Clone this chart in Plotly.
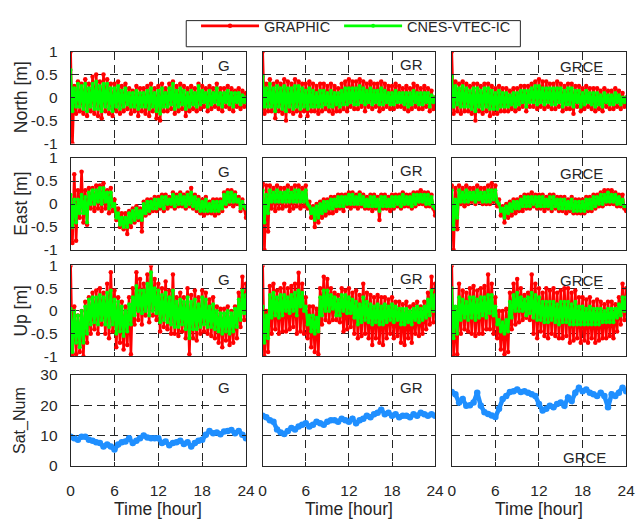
import plotly.graph_objects as go

# ---------------- data ----------------
hours = [i * 0.25 for i in range(97)]
hours_half = [i * 0.5 for i in range(49)]

north_G_graphic = [1.0,-1.0,0.25,-0.35, 0.35,-0.3,0.3,-0.35, 0.4,-0.4,0.3,-0.3, 0.45,-0.35,0.5,-0.4,
    0.35,-0.45,0.5,-0.3, 0.4,-0.35,0.3,-0.4, 0.3,-0.3,0.35,-0.35, 0.25,-0.3,0.3,-0.25,
    0.2,-0.35,0.15,-0.3, 0.25,-0.4,0.2,-0.3, 0.2,-0.35,0.25,-0.4, 0.3,-0.3,0.2,-0.45,
    0.25,-0.5,0.3,-0.3, 0.2,-0.3,0.3,-0.25, 0.35,-0.35,0.25,-0.3, 0.3,-0.25,0.25,-0.4,
    0.2,-0.3,0.25,-0.25, 0.2,-0.3,0.3,-0.25, 0.25,-0.2,0.2,-0.3, 0.25,-0.25,0.2,-0.2,
    0.3,-0.25,0.2,-0.3, 0.2,-0.2,0.25,-0.25, 0.2,-0.3,0.15,-0.2, 0.2,-0.25,0.15,-0.2, 0.1]
north_G_cnes = [0.6,-0.3,0.2,-0.2, 0.3,-0.2,0.25,-0.25, 0.3,-0.3,0.2,-0.2, 0.3,-0.25,0.35,-0.25,
    0.25,-0.3,0.3,-0.2, 0.3,-0.25,0.2,-0.3, 0.2,-0.2,0.25,-0.25, 0.15,-0.2,0.2,-0.15,
    0.1,-0.2,0.1,-0.2, 0.15,-0.25,0.1,-0.2, 0.1,-0.2,0.15,-0.25, 0.2,-0.2,0.1,-0.3,
    0.15,-0.35,0.2,-0.2, 0.1,-0.2,0.2,-0.15, 0.3,-0.25,0.15,-0.2, 0.2,-0.15,0.15,-0.25,
    0.1,-0.2,0.15,-0.15, 0.1,-0.2,0.25,-0.15, 0.15,-0.1,0.1,-0.2, 0.15,-0.15,0.1,-0.1,
    0.2,-0.15,0.1,-0.2, 0.1,-0.1,0.15,-0.15, 0.1,-0.2,0.1,-0.1, 0.1,-0.15,0.05,-0.1, 0.0]

north_GR_graphic = [1.0,-0.35,0.3,-0.3, 0.4,-0.3,0.3,-0.45, 0.35,-0.3,0.3,-0.35, 0.4,-0.5,0.35,-0.3,
    0.3,-0.35,0.4,-0.3, 0.35,-0.4,0.3,-0.3, 0.3,-0.4,0.35,-0.3, 0.3,-0.3,0.25,-0.35,
    0.3,-0.3,0.3,-0.25, 0.25,-0.3,0.3,-0.35, 0.25,-0.3,0.2,-0.3, 0.3,-0.25,0.35,-0.3,
    0.4,-0.2,0.35,-0.25, 0.35,-0.25,0.4,-0.2, 0.35,-0.3,0.3,-0.2, 0.35,-0.25,0.3,-0.2,
    0.3,-0.3,0.35,-0.25, 0.3,-0.2,0.25,-0.25, 0.25,-0.25,0.3,-0.2, 0.25,-0.2,0.2,-0.25,
    0.25,-0.3,0.2,-0.25, 0.3,-0.2,0.25,-0.25, 0.2,-0.25,0.25,-0.2, 0.2,-0.3,0.15,-0.25, 0.0]
north_GR_cnes = [0.45,-0.2,0.2,-0.2, 0.3,-0.2,0.2,-0.3, 0.25,-0.2,0.2,-0.25, 0.25,-0.3,0.2,-0.2,
    0.2,-0.25,0.25,-0.2, 0.25,-0.25,0.2,-0.2, 0.15,-0.25,0.2,-0.2, 0.15,-0.2,0.1,-0.2,
    0.15,-0.2,0.15,-0.15, 0.1,-0.2,0.15,-0.2, 0.1,-0.15,0.1,-0.2, 0.15,-0.15,0.2,-0.15,
    0.2,-0.1,0.2,-0.15, 0.2,-0.15,0.25,-0.1, 0.2,-0.15,0.15,-0.1, 0.2,-0.15,0.15,-0.1,
    0.15,-0.15,0.2,-0.15, 0.15,-0.1,0.1,-0.15, 0.1,-0.15,0.15,-0.1, 0.1,-0.1,0.1,-0.15,
    0.1,-0.2,0.1,-0.15, 0.15,-0.1,0.1,-0.15, 0.1,-0.15,0.1,-0.1, 0.1,-0.2,0.05,-0.1, 0.0]

north_GRCE_graphic = [1.0,-0.35,0.35,-0.3, 0.3,-0.35,0.35,-0.3, 0.3,-0.3,0.25,-0.35, 0.3,-0.5,0.3,-0.3,
    0.25,-0.35,0.3,-0.3, 0.3,-0.4,0.25,-0.35, 0.2,-0.35,0.25,-0.3, 0.2,-0.3,0.2,-0.3,
    0.15,-0.25,0.2,-0.3, 0.2,-0.25,0.25,-0.2, 0.25,-0.3,0.25,-0.2, 0.3,-0.2,0.35,-0.25,
    0.4,-0.2,0.35,-0.25, 0.35,-0.2,0.3,-0.25, 0.3,-0.25,0.35,-0.2, 0.3,-0.3,0.25,-0.25,
    0.3,-0.25,0.3,-0.35, 0.25,-0.2,0.25,-0.3, 0.2,-0.25,0.25,-0.2, 0.2,-0.25,0.2,-0.3,
    0.2,-0.25,0.15,-0.3, 0.2,-0.2,0.15,-0.25, 0.15,-0.25,0.2,-0.2, 0.15,-0.25,0.1,-0.2, 0.0]
north_GRCE_cnes = [0.45,-0.2,0.25,-0.15, 0.2,-0.2,0.25,-0.2, 0.2,-0.2,0.15,-0.25, 0.2,-0.3,0.2,-0.2,
    0.15,-0.25,0.2,-0.2, 0.2,-0.25,0.15,-0.25, 0.1,-0.25,0.15,-0.2, 0.1,-0.2,0.1,-0.2,
    0.05,-0.15,0.1,-0.2, 0.1,-0.15,0.15,-0.1, 0.15,-0.2,0.15,-0.1, 0.2,-0.1,0.25,-0.15,
    0.25,-0.1,0.2,-0.15, 0.2,-0.1,0.2,-0.15, 0.2,-0.15,0.2,-0.1, 0.2,-0.2,0.15,-0.15,
    0.2,-0.15,0.2,-0.2, 0.15,-0.1,0.15,-0.2, 0.1,-0.15,0.15,-0.1, 0.1,-0.15,0.1,-0.2,
    0.1,-0.15,0.05,-0.2, 0.1,-0.1,0.05,-0.15, 0.05,-0.15,0.1,-0.1, 0.05,-0.15,0.0,-0.1, 0.0]

east_G_graphic = [0.1,-0.85,0.65,-0.8, 0.3,-0.3,0.7,-0.4, 0.3,-0.45,0.35,-0.1, 0.35,-0.15,0.4,-0.1,
    0.4,-0.15,0.45,-0.1, 0.3,-0.2,0.35,-0.15, 0.1,-0.35,-0.1,-0.5, -0.2,-0.55,-0.2,-0.65,
    -0.15,-0.5,-0.1,-0.4, -0.05,-0.35,-0.1,-0.6, 0.05,-0.25,0.1,-0.2, 0.1,-0.15,0.15,-0.15,
    0.15,-0.1,0.2,-0.15, 0.2,-0.1,0.15,-0.05, 0.25,-0.1,0.2,-0.05, 0.25,-0.05,0.2,-0.1,
    0.25,-0.05,0.35,-0.1, 0.2,-0.15,0.15,-0.2, 0.1,-0.25,0.15,-0.2, 0.05,-0.2,0.1,-0.25,
    0.1,-0.2,0.1,-0.15, 0.25,-0.05,0.3,0.0, 0.3,-0.05,0.25,0.0, 0.15,-0.15,0.1,-0.1, -0.3]
east_G_cnes = [0.2,-0.5,0.1,-0.4, 0.1,-0.2,0.2,-0.2, 0.15,-0.4,0.25,0.0, 0.3,0.0,0.3,0.05,
    0.35,0.0,0.35,0.05, 0.25,-0.1,0.25,-0.05, 0.0,-0.3,-0.2,-0.45, -0.3,-0.5,-0.3,-0.5,
    -0.2,-0.4,-0.15,-0.35, -0.1,-0.3,-0.15,-0.35, 0.0,-0.2,0.05,-0.15, 0.05,-0.1,0.1,-0.1,
    0.1,-0.05,0.15,-0.1, 0.15,0.0,0.1,0.0, 0.2,-0.05,0.15,0.0, 0.2,0.0,0.15,-0.05,
    0.2,0.0,0.25,-0.05, 0.15,-0.1,0.1,-0.15, 0.05,-0.15,0.1,-0.15, 0.0,-0.15,0.05,-0.15,
    0.05,-0.15,0.05,-0.1, 0.2,0.0,0.25,0.05, 0.25,0.05,0.2,0.05, 0.1,-0.1,0.05,-0.05, -0.1]

east_GR_graphic = [0.45,-1.0,0.4,-0.6, 0.4,-0.1,0.35,-0.15, 0.4,-0.1,0.35,-0.1, 0.35,-0.05,0.4,-0.15,
    0.35,-0.1,0.4,-0.05, 0.4,-0.1,0.35,-0.05, 0.4,-0.1,0.05,-0.3, -0.05,-0.5,0.0,-0.4,
    0.05,-0.3,0.1,-0.25, 0.1,-0.2,0.15,-0.2, 0.15,-0.15,0.2,-0.1, 0.2,-0.15,0.2,-0.05,
    0.25,-0.1,0.25,-0.05, 0.2,-0.1,0.25,-0.05, 0.2,-0.1,0.15,-0.1, 0.2,-0.15,0.2,-0.1,
    0.15,-0.35,0.2,-0.1, 0.2,-0.1,0.15,-0.15, 0.2,-0.1,0.2,-0.05, 0.2,-0.1,0.25,-0.05,
    0.2,-0.05,0.2,-0.1, 0.25,-0.05,0.25,0.0, 0.3,0.0,0.25,-0.05, 0.25,-0.05,0.2,-0.1, -0.25]
east_GR_cnes = [0.3,-0.4,0.2,-0.2, 0.3,0.05,0.25,0.05, 0.3,0.05,0.25,0.05, 0.25,0.05,0.3,0.05,
    0.25,0.05,0.3,0.05, 0.3,0.05,0.25,0.05, 0.3,0.0,-0.05,-0.2, -0.1,-0.35,-0.05,-0.3,
    0.0,-0.2,0.05,-0.15, 0.05,-0.1,0.1,-0.1, 0.1,-0.05,0.15,-0.05, 0.15,-0.05,0.15,0.0,
    0.2,0.0,0.2,0.0, 0.15,0.0,0.2,0.0, 0.15,-0.05,0.1,-0.05, 0.15,-0.05,0.15,-0.05,
    0.1,-0.15,0.15,-0.05, 0.15,-0.05,0.1,-0.05, 0.15,-0.05,0.15,0.0, 0.15,-0.05,0.2,0.0,
    0.15,0.0,0.15,-0.05, 0.2,0.0,0.2,0.05, 0.2,0.05,0.2,0.0, 0.2,0.0,0.15,-0.05, -0.1]

east_GRCE_graphic = [0.4,-1.0,0.35,-0.55, 0.4,0.0,0.35,-0.05, 0.4,0.0,0.35,0.05, 0.35,0.0,0.4,0.05,
    0.35,0.0,0.35,0.0, 0.4,0.0,0.45,0.05, 0.4,-0.05,0.1,-0.25, -0.05,-0.4,0.0,-0.3,
    0.05,-0.25,0.1,-0.2, 0.1,-0.15,0.15,-0.15, 0.2,-0.1,0.2,-0.1, 0.25,-0.05,0.2,-0.1,
    0.2,-0.1,0.2,-0.15, 0.15,-0.1,0.2,-0.15, 0.2,-0.1,0.15,-0.15, 0.15,-0.15,0.15,-0.2,
    0.1,-0.15,0.15,-0.2, 0.1,-0.2,0.1,-0.2, 0.1,-0.2,0.15,-0.15, 0.15,-0.15,0.2,-0.1,
    0.2,-0.05,0.25,-0.05, 0.3,0.0,0.3,0.0, 0.3,0.0,0.25,-0.05, 0.2,-0.05,0.2,-0.1, -0.15]
east_GRCE_cnes = [0.3,-0.55,0.1,-0.3, 0.3,0.05,0.25,0.05, 0.3,0.05,0.25,0.1, 0.25,0.05,0.3,0.1,
    0.25,0.05,0.25,0.05, 0.3,0.05,0.3,0.1, 0.3,0.05,0.0,-0.15, -0.1,-0.3,-0.05,-0.2,
    0.0,-0.15,0.05,-0.1, 0.05,-0.1,0.1,-0.05, 0.15,-0.05,0.15,-0.05, 0.15,0.0,0.15,-0.05,
    0.15,-0.05,0.15,-0.05, 0.1,-0.05,0.15,-0.1, 0.15,-0.05,0.1,-0.1, 0.1,-0.1,0.1,-0.1,
    0.05,-0.1,0.1,-0.15, 0.05,-0.15,0.05,-0.15, 0.05,-0.15,0.1,-0.1, 0.1,-0.1,0.15,-0.05,
    0.15,0.0,0.2,0.0, 0.2,0.05,0.25,0.05, 0.2,0.05,0.2,0.0, 0.15,0.0,0.1,-0.05, -0.05]

up_G_graphic = [1.0,-1.0,0.1,-0.95, -0.1,-0.9,0.0,-1.0, 0.2,-0.7,0.3,-0.5, 0.4,-0.4,0.45,-0.5,
    0.5,-0.3,0.4,-0.5, 0.6,-0.6,0.85,-0.45, 0.45,-0.8,0.3,-0.7, 0.2,-0.85,0.1,-0.75,
    0.3,-0.95,0.5,-0.3, 0.85,-0.2,0.7,-0.3, 0.6,-0.1,0.8,-0.25, 1.0,-0.1,0.7,-0.2,
    0.6,-0.45,0.5,-0.35, 0.65,-0.4,0.45,-0.5, 0.8,-0.5,0.3,-0.55, 0.4,-0.45,0.3,-0.6,
    0.5,-0.95,0.35,-0.6, 0.45,-0.65,0.3,-0.5, 0.45,-0.45,0.4,-0.5, 0.25,-0.55,0.3,-0.6,
    0.1,-0.7,0.05,-0.8, 0.05,-0.65,0.1,-0.75, 0.0,-0.7,0.1,-0.6, 0.4,-0.35,0.75,-0.2, 0.6]
up_G_cnes = [0.05,-0.9,0.0,-0.7, -0.1,-0.8,0.0,-0.7, 0.1,-0.5,0.25,-0.3, 0.3,-0.25,0.3,-0.3,
    0.35,-0.2,0.3,-0.3, 0.4,-0.35,0.45,-0.3, 0.25,-0.5,0.2,-0.45, 0.1,-0.55,0.0,-0.45,
    0.15,-0.3,0.3,-0.1, 0.55,0.0,0.45,-0.05, 0.45,0.0,0.6,-0.1, 0.85,0.0,0.5,-0.05,
    0.45,-0.25,0.35,-0.2, 0.4,-0.25,0.3,-0.3, 0.45,-0.35,0.2,-0.35, 0.25,-0.3,0.2,-0.4,
    0.3,-0.6,0.2,-0.4, 0.25,-0.4,0.15,-0.35, 0.3,-0.3,0.25,-0.35, 0.1,-0.35,0.15,-0.4,
    0.0,-0.45,-0.05,-0.5, -0.05,-0.45,0.0,-0.5, -0.05,-0.45,0.05,-0.35, 0.25,-0.2,0.45,-0.05, 0.35]

up_GR_graphic = [1.0,-1.0,0.0,-0.9, 0.55,-0.5,0.6,-0.4, 0.45,-0.5,0.5,-0.45, 0.6,-0.45,0.5,-0.4,
    0.55,-0.35,0.6,-0.5, 0.84,-0.45,0.6,-0.5, 0.3,-0.6,0.1,-0.8, 0.1,-0.9,0.05,-0.95,
    0.5,-0.3,0.75,-0.2, 0.7,-0.25,0.5,-0.2, 0.4,-0.2,0.35,-0.25, 0.5,-0.45,0.45,-0.4,
    0.5,-0.35,0.4,-0.5, 0.45,-0.6,0.35,-0.55, 0.6,-0.5,0.4,-0.6, 0.35,-0.75,0.3,-0.6,
    0.35,-0.7,0.3,-0.75, 0.3,-0.6,0.25,-0.5, 0.3,-0.6,0.2,-0.55, 0.2,-0.7,0.15,-0.75,
    0.2,-0.6,0.1,-0.7, 0.15,-0.5,0.2,-0.55, 0.1,-0.5,0.2,-0.4, 0.4,-0.3,0.75,-0.25, 0.6]
up_GR_cnes = [0.1,-0.7,-0.1,-0.6, 0.35,-0.15,0.4,-0.1, 0.3,-0.15,0.35,-0.1, 0.35,0.0,0.3,-0.05,
    0.35,0.0,0.4,-0.1, 0.45,0.1,0.4,0.0, 0.1,-0.3,-0.1,-0.45, -0.1,-0.5,-0.15,-0.45,
    0.3,-0.1,0.45,0.0, 0.45,0.0,0.35,0.05, 0.3,-0.1,0.25,-0.1, 0.35,0.0,0.35,-0.05,
    0.3,-0.05,0.25,-0.15, 0.2,-0.3,0.15,-0.25, 0.3,-0.2,0.2,-0.25, 0.15,-0.3,0.1,-0.25,
    0.15,-0.3,0.1,-0.3, 0.15,-0.25,0.1,-0.2, 0.15,-0.25,0.1,-0.2, 0.05,-0.3,0.05,-0.3,
    0.05,-0.25,0.0,-0.3, 0.05,-0.2,0.1,-0.25, 0.05,-0.2,0.1,-0.15, 0.25,-0.1,0.45,0.0, 0.35]

up_GRCE_graphic = [1.0,-1.0,0.0,-0.95, 0.6,-0.5,0.45,-0.4, 0.4,-0.45,0.5,-0.5, 0.55,-0.55,0.45,-0.5,
    0.5,-0.5,0.55,-0.4, 0.8,-0.4,0.6,-0.5, 0.3,-0.6,0.0,-0.85, 0.0,-0.95,0.05,-0.9,
    0.4,-0.4,0.6,-0.3, 0.7,-0.25,0.5,-0.2, 0.35,-0.15,0.4,-0.2, 0.8,-0.5,0.6,-0.6,
    0.5,-0.45,0.4,-0.55, 0.5,-0.6,0.45,-0.5, 0.5,-0.55,0.4,-0.6, 0.45,-0.6,0.5,-0.55,
    0.5,-0.7,0.4,-0.65, 0.45,-0.6,0.3,-0.7, 0.3,-0.65,0.25,-0.7, 0.3,-0.6,0.2,-0.7,
    0.25,-0.65,0.2,-0.6, 0.15,-0.6,0.2,-0.55, 0.2,-0.6,0.15,-0.45, 0.3,-0.3,0.6,-0.2, 0.5]
up_GRCE_cnes = [0.5,-0.6,0.1,-0.5, 0.3,-0.2,0.25,-0.15, 0.2,-0.2,0.3,-0.15, 0.3,-0.2,0.25,-0.15,
    0.3,-0.1,0.3,-0.15, 0.35,-0.05,0.35,-0.1, 0.1,-0.3,-0.2,-0.45, -0.25,-0.5,-0.2,-0.45,
    0.2,-0.15,0.35,0.0, 0.4,0.0,0.3,0.0, 0.25,-0.1,0.3,-0.05, 0.4,-0.15,0.35,-0.2,
    0.3,-0.2,0.2,-0.25, 0.2,-0.25,0.2,-0.2, 0.2,-0.25,0.15,-0.3, 0.2,-0.25,0.2,-0.25,
    0.2,-0.3,0.15,-0.3, 0.2,-0.3,0.1,-0.3, 0.1,-0.3,0.05,-0.3, 0.1,-0.3,0.05,-0.3,
    0.05,-0.3,0.05,-0.25, 0.0,-0.25,0.05,-0.25, 0.05,-0.25,0.05,-0.15, 0.15,-0.1,0.3,0.0, 0.3]

sat_G = [9.6,9.1,8.6,9.6,9.6,8.6,8.3,7.8,7.5,6.4,7.0,6.4,5.4,7.0,7.8,8.0,9.1,7.5,8.3,9.1,
    10.0,9.3,9.1,9.1,9.1,7.5,8.0,6.8,7.5,7.8,8.3,7.2,7.8,6.4,7.5,8.3,8.6,10.2,11.5,10.7,
    11.0,10.4,11.3,11.5,11.8,10.7,11.5,10.2,9.1]
sat_GR = [16.5,16.0,15.0,14.5,12.0,11.0,10.5,11.5,12.5,12.0,13.0,13.5,14.0,13.0,13.5,14.5,
    14.0,13.5,14.5,15.0,15.0,14.5,15.5,15.0,14.5,15.5,14.0,15.0,15.5,16.5,16.0,17.0,17.5,
    18.5,17.0,17.5,16.5,17.0,16.0,16.5,16.5,16.0,17.0,16.5,17.5,17.0,16.5,17.0,16.5]
sat_GRCE = [24.3,23.6,20.9,22.0,19.8,20.0,20.9,24.1,19.8,17.7,17.1,16.6,16.1,18.8,22.0,23.0,
    24.3,24.6,25.2,24.3,24.6,24.1,23.6,23.0,20.4,18.2,18.8,19.8,19.3,20.4,20.9,19.8,22.5,
    21.4,24.1,25.7,24.6,25.2,24.1,23.6,23.0,24.1,23.0,19.3,23.6,23.0,24.1,25.7,24.6]

systems = ["G", "GR", "GRCE"]
row_titles = ["North [m]", "East [m]", "Up [m]", "Sat_Num"]
x_ticks = [0, 6, 12, 18, 24]
pos_ticks = [-1, -0.5, 0, 0.5, 1]
pos_ticktext = ["-1", "-0.5", "0", "0.5", "1"]
sat_ticks = [0, 10, 20, 30]

graphic = [[north_G_graphic, north_GR_graphic, north_GRCE_graphic],
           [east_G_graphic, east_GR_graphic, east_GRCE_graphic],
           [up_G_graphic, up_GR_graphic, up_GRCE_graphic]]
cnes = [[north_G_cnes, north_GR_cnes, north_GRCE_cnes],
        [east_G_cnes, east_GR_cnes, east_GRCE_cnes],
        [up_G_cnes, up_GR_cnes, up_GRCE_cnes]]
sats = [sat_G, sat_GR, sat_GRCE]

# ---------------- layout geometry ----------------
W, H = 644, 528
col_px = [(68, 247), (264, 440), (457, 635)]
row_px = [(44, 139), (154, 249), (265, 359), (378, 472)]
AX = "#262626"
FONT = "Liberation Sans, Arial, sans-serif"
RED = "#ff0000"
GREEN = "#00ff00"
BLUE = "#1f8fff"

fig = go.Figure()
layout = dict(width=W, height=H, margin=dict(l=0, r=0, t=0, b=0), autosize=False,
              paper_bgcolor="white", plot_bgcolor="white",
              font=dict(family=FONT, color=AX))
annotations = []

for r in range(4):
    for c in range(3):
        k = r * 3 + c + 1
        xa = "x" if k == 1 else f"x{k}"
        ya = "y" if k == 1 else f"y{k}"
        x0, x1 = col_px[c]
        y0, y1 = row_px[r]
        layout["xaxis" if k == 1 else f"xaxis{k}"] = dict(
            domain=[x0 / W, x1 / W], anchor=ya, range=[0, 24], tickvals=x_ticks,
            showticklabels=(r == 3), tickfont=dict(size=15.5, color=AX, family=FONT),
            ticklabelstandoff=11,
            showgrid=True, gridcolor=AX, griddash="8px,5px", gridwidth=1,
            showline=True, linecolor=AX, linewidth=1, mirror="ticks",
            ticks="inside", ticklen=4, tickcolor=AX, zeroline=False)
        if r < 3:
            ydict = dict(range=[-1, 1], tickvals=pos_ticks, ticktext=pos_ticktext)
        else:
            ydict = dict(range=[0, 30], tickvals=sat_ticks)
        layout["yaxis" if k == 1 else f"yaxis{k}"] = dict(
            domain=[1 - y1 / H, 1 - y0 / H], anchor=xa,
            showticklabels=(c == 0), tickfont=dict(size=15.5, color=AX, family=FONT),
            ticklabelstandoff=9,
            showgrid=True, gridcolor=AX, griddash="8px,5px", gridwidth=1,
            showline=True, linecolor=AX, linewidth=1, mirror="ticks",
            ticks="inside", ticklen=4, tickcolor=AX, zeroline=False, **ydict)

        if r < 3:
            fig.add_trace(go.Scatter(
                x=hours, y=graphic[r][c], xaxis=xa, yaxis=ya, mode="lines+markers",
                name="GRAPHIC", showlegend=(k == 1), legend="legend",
                line=dict(color=RED, width=2.6), marker=dict(color=RED, size=4.5)))
            fig.add_trace(go.Scatter(
                x=hours, y=cnes[r][c], xaxis=xa, yaxis=ya, mode="lines+markers",
                name="CNES-VTEC-IC", showlegend=(k == 1), legend="legend2",
                line=dict(color=GREEN, width=2.6), marker=dict(color=GREEN, size=4)))
        else:
            fig.add_trace(go.Scatter(
                x=hours_half, y=sats[c], xaxis=xa, yaxis=ya, mode="lines+markers",
                showlegend=False, line=dict(color=BLUE, width=4.5),
                marker=dict(color=BLUE, size=6.5)))

        # panel label
        if r < 3:
            lx = [21.05, 20.7, 17.9][c]
            ly = [0.70, 0.72, 0.67][c]
        else:
            lx = [21.05, 20.7, 18.2][c]
            ly = [25.9, 25.9, 2.9][c]
        annotations.append(dict(x=lx, y=ly, xref=xa, yref=ya, text=systems[c],
                                showarrow=False, xanchor="center", yanchor="middle",
                                font=dict(size=15, color=AX, family=FONT)))

    # row title
    annotations.append(dict(x=17 / W, y=1 - (row_px[r][0] + row_px[r][1]) / 2 / H,
                            xref="paper", yref="paper", text=row_titles[r], textangle=-90,
                            showarrow=False, xanchor="center", yanchor="middle",
                            font=dict(size=17.5 if r < 3 else 16, color=AX, family=FONT)))

for c in range(3):
    annotations.append(dict(x=(col_px[c][0] + col_px[c][1]) / 2 / W, y=1 - 517 / H,
                            xref="paper", yref="paper", text="Time [hour]",
                            showarrow=False, xanchor="center", yanchor="middle",
                            font=dict(size=17.5, color=AX, family=FONT)))

layout["annotations"] = annotations
# legend frame, and two legend entries placed side by side inside it
layout["shapes"] = [dict(type="rect", xref="paper", yref="paper",
                         x0=186 / W, x1=527 / W, y0=1 - 39 / H, y1=1 - 12 / H,
                         line=dict(color=AX, width=1), fillcolor="rgba(0,0,0,0)")]
leg_common = dict(orientation="h", xanchor="left", y=1 - 17.5 / H, yanchor="middle",
                  borderwidth=0, bgcolor="rgba(0,0,0,0)",
                  font=dict(size=14.5, color=AX, family=FONT), itemwidth=58)
layout["legend"] = dict(x=196 / W, **leg_common)
layout["legend2"] = dict(x=342 / W, **leg_common)
fig.update_layout(**layout)
fig.write_html("out.html")
